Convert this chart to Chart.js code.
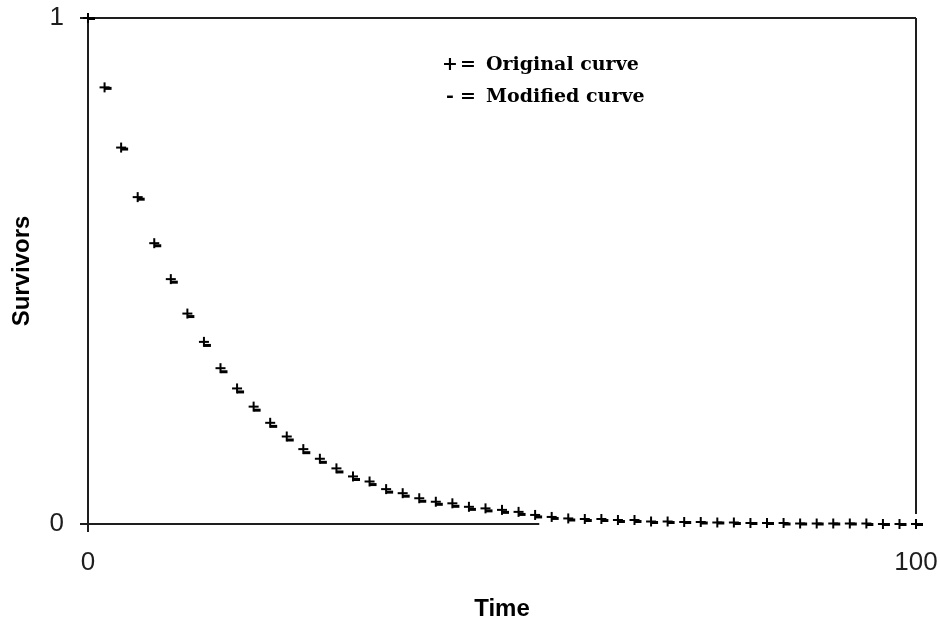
<!DOCTYPE html>
<html>
<head>
<meta charset="utf-8">
<title>Survivors over time</title>
<script src="https://cdn.jsdelivr.net/npm/chart.js@4/dist/chart.umd.min.js"></script>
<style>
  html, body { margin: 0; padding: 0; background: #fff; }
  #wrap { width: 940px; height: 624px; }
</style>
</head>
<body>
<div id="wrap"><canvas id="chart" width="940" height="624"></canvas></div>
<script>
// Sampling times (every 2 time units)
const times = [0, 2, 4, 6, 8, 10, 12, 14, 16, 18, 20, 22, 24, 26, 28, 30, 32, 34, 36, 38, 40,
  42, 44, 46, 48, 50, 52, 54, 56, 58, 60, 62, 64, 66, 68, 70, 72, 74, 76, 78, 80,
  82, 84, 86, 88, 90, 92, 94, 96, 98, 100];

// Fraction of survivors, original curve
const originalCurve = [1.000, 0.863, 0.744, 0.646, 0.555, 0.484, 0.416, 0.360, 0.308, 0.268, 0.232,
  0.200, 0.173, 0.148, 0.129, 0.110, 0.094, 0.084, 0.069, 0.061, 0.051,
  0.044, 0.041, 0.034, 0.031, 0.028, 0.024, 0.018, 0.014, 0.011, 0.010,
  0.010, 0.008, 0.008, 0.005, 0.005, 0.004, 0.004, 0.003, 0.003, 0.002,
  0.002, 0.002, 0.001, 0.001, 0.001, 0.001, 0.001, 0.000, 0.000, 0.000];

// Fraction of survivors, modified curve
const modifiedCurve = [1.000, 0.862, 0.742, 0.643, 0.551, 0.479, 0.411, 0.354, 0.302, 0.262, 0.226,
  0.194, 0.167, 0.142, 0.123, 0.104, 0.089, 0.079, 0.064, 0.056, 0.046,
  0.040, 0.036, 0.030, 0.027, 0.024, 0.020, 0.015, 0.012, 0.009, 0.008,
  0.008, 0.006, 0.006, 0.004, 0.004, 0.004, 0.003, 0.003, 0.002, 0.002,
  0.002, 0.001, 0.001, 0.001, 0.001, 0.001, 0.000, 0.000, 0.000, 0.000];

const xTickValues = [0, 100];
const yTickValues = [0, 1];
const legendLines = [
  { symbol: '+', text: 'Original curve' },
  { symbol: '-', text: 'Modified curve' }
];
const xTitle = 'Time';
const yTitle = 'Survivors';

const INK = '#1e1e1e';
const tickFont = { family: "'Liberation Sans', Arial, sans-serif", size: 26 };
const titleFont = { family: "'Liberation Sans', Arial, sans-serif", size: 24, weight: 'bold' };

// Plus marker with heavier strokes
function makePlusMarker() {
  const c = document.createElement('canvas');
  c.width = 16; c.height = 16;
  const g = c.getContext('2d');
  g.fillStyle = '#000';
  g.fillRect(3, 7, 10, 2);
  g.fillRect(7, 3, 2, 10);
  return c;
}

// Dash marker, drawn just to the right of the point
function makeDashMarker() {
  const c = document.createElement('canvas');
  c.width = 16; c.height = 16;
  const g = c.getContext('2d');
  g.fillStyle = '#000';
  g.fillRect(8, 7, 7, 3);
  return c;
}

const toPoints = (xs, ys) => xs.map((x, i) => ({ x: x, y: ys[i] }));

// Frame: top and right edges, plus the partial bottom rule
const bottomRuleEnd = 54.5;
const framePlugin = {
  id: 'frame',
  beforeDatasetsDraw(chart) {
    const { ctx, chartArea: a, scales } = chart;
    ctx.save();
    ctx.strokeStyle = INK;
    ctx.lineWidth = 2;
    ctx.beginPath();
    ctx.moveTo(a.left, a.top);
    ctx.lineTo(a.right, a.top);
    ctx.moveTo(a.right, a.top);
    ctx.lineTo(a.right, a.bottom - 10);
    ctx.moveTo(a.left - 8, a.bottom);
    ctx.lineTo(scales.x.getPixelForValue(bottomRuleEnd), a.bottom);
    ctx.stroke();
    ctx.restore();
  }
};

// Text key in the upper part of the plot
const keyPlugin = {
  id: 'key',
  afterDraw(chart) {
    const { ctx } = chart;
    ctx.save();
    ctx.fillStyle = '#000';
    ctx.font = "bold 19px 'DejaVu Serif', 'Liberation Serif', serif";
    ctx.textBaseline = 'middle';
    legendLines.forEach((ln, i) => {
      const y = 65 + i * 32;
      ctx.textAlign = 'center';
      ctx.fillText(ln.symbol, 450, y);
      ctx.textAlign = 'left';
      ctx.fillText('=', 460, y);
      ctx.fillText(ln.text, 486, y);
    });
    ctx.restore();
  }
};

new Chart(document.getElementById('chart'), {
  type: 'scatter',
  data: {
    datasets: [
      {
        label: 'Original curve',
        data: toPoints(times, originalCurve),
        pointStyle: makePlusMarker(),
        pointRadius: 4,
        borderColor: '#000',
        backgroundColor: '#000',
        showLine: false,
        clip: false
      },
      {
        label: 'Modified curve',
        data: toPoints(times, modifiedCurve),
        pointStyle: makeDashMarker(),
        pointRadius: 4,
        borderColor: '#000',
        backgroundColor: '#000',
        showLine: false,
        clip: false
      }
    ]
  },
  options: {
    responsive: false,
    animation: false,
    devicePixelRatio: 1,
    layout: { autoPadding: false, padding: { left: 0, top: 18, right: 24, bottom: 0 } },
    plugins: {
      legend: { display: false },
      tooltip: { enabled: false }
    },
    scales: {
      x: {
        type: 'linear',
        min: 0,
        max: 100,
        afterBuildTicks(scale) { scale.ticks = xTickValues.map(v => ({ value: v })); },
        afterFit(scale) {
          scale.height = 100;
          scale.paddingLeft = 0;
          scale.paddingRight = 0;
        },
        border: { display: false },
        grid: {
          drawOnChartArea: false,
          drawTicks: true,
          tickLength: 8,
          lineWidth: 2,
          color: (c) => (c.tick && c.tick.value === 0 ? INK : 'rgba(0,0,0,0)')
        },
        ticks: { color: INK, font: tickFont, padding: 15, maxRotation: 0 },
        title: { display: true, text: xTitle, color: '#000', font: titleFont, padding: { top: 0, bottom: 0 } }
      },
      y: {
        type: 'linear',
        min: 0,
        max: 1,
        afterBuildTicks(scale) { scale.ticks = yTickValues.map(v => ({ value: v })); },
        afterFit(scale) {
          scale.width = 88;
          scale.paddingTop = 0;
          scale.paddingBottom = 0;
        },
        border: { display: true, color: INK, width: 2 },
        grid: {
          drawOnChartArea: false,
          drawTicks: true,
          tickLength: 8,
          lineWidth: 2,
          color: INK
        },
        ticks: { color: INK, font: tickFont, padding: 16 },
        title: { display: true, text: yTitle, color: '#000', font: titleFont, padding: { top: 8, bottom: 0 } }
      }
    }
  },
  plugins: [framePlugin, keyPlugin]
});
</script>
</body>
</html>
